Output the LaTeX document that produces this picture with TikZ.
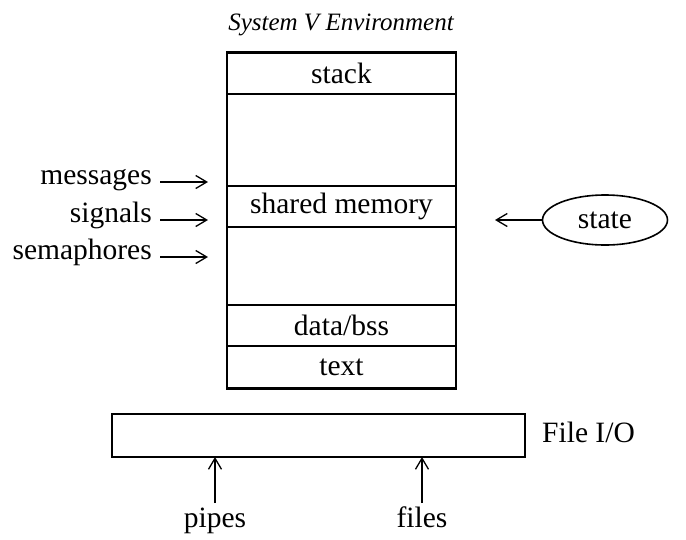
\documentclass[tikz,border=0pt]{standalone}
\usepackage{fontspec}
\setmainfont{Liberation Serif}
\usetikzlibrary{arrows.meta,shapes.geometric}
\begin{document}
\begin{tikzpicture}[x=1pt,y=-1pt,
  font=\fontsize{29.5}{32}\selectfont,
  seg/.style={draw,line width=1.8pt,minimum width=229pt,inner sep=0pt,anchor=north},
  lbl/.style={inner sep=0pt},
  arr/.style={line width=1.3pt,-{Straight Barb[length=11pt,width=13pt,line width=1.3pt]}}]
\useasboundingbox (0,0) rectangle (686,539);
% title
\node[lbl,anchor=base,font=\fontsize{25}{30}\selectfont\itshape] (title) at (341,30) {System V Environment};
% main box
\coordinate (boxnw) at (227,52);
\coordinate (boxse) at (456,388);
\draw[line width=1.8pt] (boxnw) rectangle (boxse);
\node[seg,minimum height=41pt] (stack) at (341.5,52) {stack};
\node[seg,minimum height=41pt] (shm) at (341.5,185) {shared memory};
\node[seg,minimum height=41pt] (data) at (341.5,304) {data/bss};
\node[seg,minimum height=43pt] (text) at (341.5,345) {text};
% left labels
\node[lbl,anchor=mid east] (msg) at (152,182) {messages};
\node[lbl,anchor=mid east] (sig) at (152,220) {signals};
\node[lbl,anchor=mid east] (sem) at (152,257) {semaphores};
\coordinate (msgtip) at (208,182);
\coordinate (sigtip) at (208,220);
\coordinate (semtip) at (208,257);
\draw[arr] ([xshift=8pt]msg.mid east) -- (msgtip);
\draw[arr] ([xshift=8pt]sig.mid east) -- (sigtip);
\draw[arr] ([xshift=8pt]sem.mid east) -- (semtip);
% state
\node[draw,ellipse,line width=1.6pt,minimum width=125pt,minimum height=50pt,inner sep=0pt] (state) at (605,220) {state};
\coordinate (statetip) at (495,220);
\draw[arr] (state.west) -- (statetip);
% File I/O
\coordinate (fnw) at (112,414);
\coordinate (fse) at (525,457);
\draw[line width=1.8pt] (fnw) rectangle (fse);
\node[lbl,anchor=base west] (fio) at (542,442) {File I/O};
\coordinate (pipetip) at (215,457);
\coordinate (filetip) at (422,457);
\node[lbl,anchor=base] (pipes) at (215,527) {pipes};
\node[lbl,anchor=base] (files) at (422,527) {files};
\draw[arr] (pipes.north |- 0,503) -- (pipetip);
\draw[arr] (files.north |- 0,503) -- (filetip);
\end{tikzpicture}
\end{document}
